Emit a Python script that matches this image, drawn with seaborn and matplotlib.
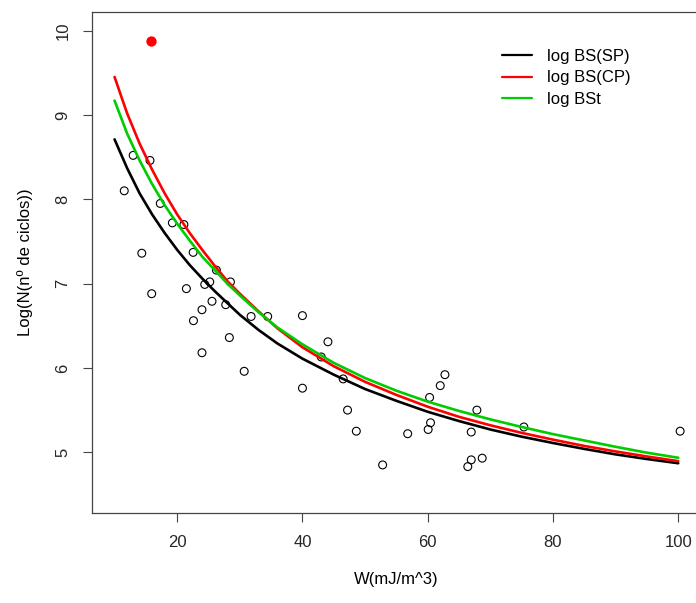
import numpy as np
import pandas as pd
import matplotlib
matplotlib.use("Agg")
import matplotlib.pyplot as plt
import seaborn as sns

# ================= DATA =================
# observed points (W, log N)
w_obs = [11.55, 12.97, 14.35, 15.66, 15.93, 17.3, 19.23, 21.07, 21.47, 22.55,
         22.6, 23.96, 23.96, 24.4, 25.2, 25.56, 26.26, 27.75, 28.33, 28.5,
         30.7, 31.8, 34.45, 40.0, 40.0, 43.0, 44.07, 46.5, 47.2, 48.6,
         52.8, 56.8, 60.07, 60.45, 60.3, 62.0, 62.75, 67.85, 66.95, 66.95,
         66.4, 68.7, 75.35, 100.3]
logn_obs = [8.10, 8.52, 7.36, 8.46, 6.88, 7.95, 7.72, 7.70, 6.94, 7.37,
            6.56, 6.69, 6.18, 6.99, 7.02, 6.79, 7.16, 6.75, 6.36, 7.02,
            5.96, 6.61, 6.61, 6.62, 5.76, 6.13, 6.31, 5.87, 5.50, 5.25,
            4.85, 5.22, 5.27, 5.35, 5.65, 5.79, 5.92, 5.50, 5.24, 4.91,
            4.83, 4.93, 5.30, 5.25]

# highlighted point
w_out = [15.88]
logn_out = [9.88]

# fitted curves
w_curve = [10, 12, 14, 16, 18, 20, 22, 24, 26, 28, 30, 33, 36, 40, 45,
           50, 55, 60, 65, 70, 75, 80, 85, 90, 95, 100]
bs_sp = [8.71, 8.37, 8.07, 7.82, 7.60, 7.40, 7.22, 7.06, 6.91, 6.77, 6.63, 6.45, 6.29,
         6.11, 5.92, 5.75, 5.61, 5.48, 5.37, 5.27, 5.185, 5.11, 5.04, 4.975, 4.92, 4.87]
bs_cp = [9.45, 9.02, 8.66, 8.35, 8.07, 7.82, 7.60, 7.40, 7.21, 7.03, 6.88, 6.67, 6.47,
         6.245, 6.02, 5.835, 5.68, 5.54, 5.42, 5.32, 5.23, 5.15, 5.075, 5.01, 4.95, 4.895]
bst = [9.17, 8.78, 8.46, 8.18, 7.93, 7.71, 7.51, 7.32, 7.16, 7.00, 6.86, 6.66, 6.48,
       6.28, 6.06, 5.88, 5.73, 5.60, 5.49, 5.39, 5.30, 5.215, 5.14, 5.065, 4.995, 4.935]

labels = ["log BS(SP)", "log BS(CP)", "log BSt"]
colors = ["black", "#FF0000", "#00CD00"]

obs = pd.DataFrame({"W": w_obs, "logN": logn_obs})
out = pd.DataFrame({"W": w_out, "logN": logn_out})
curves = pd.concat([
    pd.DataFrame({"W": w_curve, "logN": vals, "modelo": lab})
    for vals, lab in zip([bs_sp, bs_cp, bst], labels)
])

# ================= PLOT =================
sns.set_theme(style="white")
plt.rcParams["font.family"] = ["Liberation Sans", "DejaVu Sans"]
plt.rcParams["text.color"] = "black"
plt.rcParams["axes.labelcolor"] = "black"

fig = plt.figure(figsize=(6.96, 6.03), dpi=100)
ax = fig.add_axes([92 / 696, 1 - 513 / 603, (700.8 - 92) / 696, (513 - 12) / 603])

sns.scatterplot(data=obs, x="W", y="logN", ax=ax, marker="o", s=32,
                facecolor="none", edgecolor="black", linewidth=0.8, zorder=3)
sns.scatterplot(data=out, x="W", y="logN", ax=ax, marker="o", s=55,
                color="#FF0000", edgecolor="#FF0000", linewidth=0, zorder=3)
sns.lineplot(data=curves, x="W", y="logN", hue="modelo", hue_order=labels,
             palette=dict(zip(labels, colors)), linewidth=1.9, ax=ax,
             sort=False, estimator=None, zorder=4)

ax.set_xlim(6.4, 103.6)
ax.set_ylim(4.28, 10.22)
ax.set_xticks([20, 40, 60, 80, 100])
ax.set_yticks([5, 6, 7, 8, 9, 10])
for s in ax.spines.values():
    s.set_color("#444444")
    s.set_linewidth(0.9)
ax.tick_params(direction="out", length=6.5, width=0.8, color="#444444",
               labelsize=12, pad=9, bottom=True, left=True)
for t in ax.get_yticklabels():
    t.set_rotation(90)
    t.set_va("center")

ax.set_xlabel("W(mJ/m^3)", fontsize=12, labelpad=16)
ax.set_ylabel("Log(N(nº de ciclos))", fontsize=12, labelpad=16)

leg = ax.legend(loc="upper left", bbox_to_anchor=(501.7 / 696, 1 - 49 / 603),
                bbox_transform=fig.transFigure, frameon=False, fontsize=12,
                handlelength=1.8, handletextpad=0.9, labelspacing=0.38,
                borderpad=0, borderaxespad=0)
for line in leg.get_lines():
    line.set_linewidth(1.6)

fig.savefig("out.png", dpi=100)
